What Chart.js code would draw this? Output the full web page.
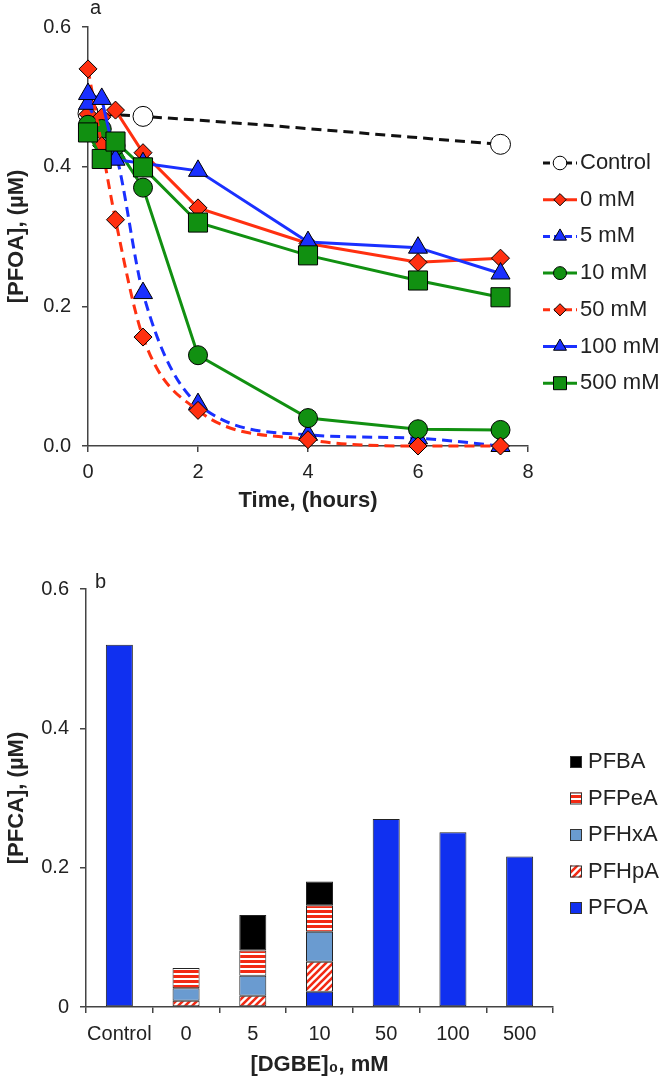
<!DOCTYPE html>
<html>
<head>
<meta charset="utf-8">
<script src="https://cdn.jsdelivr.net/npm/chart.js@4.4.1/dist/chart.umd.min.js"></script>
<style>
body { margin: 0; background: #fff; width: 666px; height: 1081px; position: relative; overflow: hidden; }
canvas { position: absolute; left: 0; }
#topChart { top: 0; }
#barChart { top: 540px; }
</style>
</head>
<body>
<canvas id="topChart" width="666" height="520"></canvas>
<canvas id="barChart" width="666" height="541"></canvas>
<script>
// panel a: PFOA vs time
var hours = [0, 0.25, 0.5, 1, 2, 4, 6, 7.5];
var controlHours = [0, 1, 7.5];
var control = [0.476, 0.472, 0.432];
var mM0 = [0.475, 0.471, 0.481, 0.420, 0.341, 0.290, 0.263, 0.269];
var mM5 = [0.490, 0.450, 0.420, 0.219, 0.060, 0.016, 0.011, 0.000];
var mM10 = [0.460, 0.454, 0.430, 0.370, 0.130, 0.040, 0.024, 0.023];
var mM50 = [0.540, 0.430, 0.324, 0.156, 0.051, 0.009, 0.000, 0.000];
var mM100 = [0.504, 0.497, 0.410, 0.405, 0.394, 0.292, 0.284, 0.247];
var mM500 = [0.449, 0.411, 0.436, 0.399, 0.320, 0.273, 0.237, 0.213];

// panel b: PFCA after treatment
var doses = ['Control', '0', '5', '10', '50', '100', '500'];
var pfoa  = [0.520, null, null, 0.022, 0.270, 0.251, 0.216];
var pfhpa = [null, 0.009, 0.016, 0.043, null, null, null];
var pfhxa = [null, 0.018, 0.029, 0.043, null, null, null];
var pfpea = [null, 0.029, 0.036, 0.038, null, null, null];
var pfba  = [null, null, 0.051, 0.034, null, null, null];

var RED = '#ff3010';
var BLUE = '#1a30ff';
var GREEN = '#119011';

Chart.defaults.font.family = '"Liberation Sans", Arial, sans-serif';
Chart.defaults.color = '#222';

function pairs(xs, ys) {
    var out = [];
    for (var i = 0; i < xs.length; i++) {
        out.push({x: xs[i], y: ys[i]});
    }
    return out;
}

function stripes(horizontal) {
    var c = document.createElement('canvas');
    var s = horizontal ? 5 : 7;
    c.width = s; c.height = s;
    var g = c.getContext('2d');
    g.fillStyle = '#fff';
    g.fillRect(0, 0, s, s);
    if (horizontal) {
        g.fillStyle = '#f22a14';
        g.fillRect(0, 0, s, 3);
    } else {
        g.strokeStyle = '#f22a14';
        g.lineWidth = 2.6;
        g.beginPath();
        g.moveTo(0, s); g.lineTo(s, 0);
        g.moveTo(-2, 2); g.lineTo(2, -2);
        g.moveTo(s - 2, s + 2); g.lineTo(s + 2, s - 2);
        g.stroke();
    }
    return g.createPattern(c, 'repeat');
}

// legend drawn at the side, plus panel letter
var sideLegend = {
    id: 'sideLegend',
    afterDraw: function(chart, args, opts) {
        var ctx = chart.ctx;
        var sets = chart.data.datasets.slice();
        if (opts.reverse) sets.reverse();
        ctx.save();
        ctx.textBaseline = 'middle';
        ctx.font = '20px "Liberation Sans", Arial, sans-serif';
        ctx.fillStyle = '#222';
        ctx.fillText(opts.letter, opts.letterX, opts.letterY);
        ctx.font = opts.fontSize + 'px "Liberation Sans", Arial, sans-serif';
        for (var i = 0; i < sets.length; i++) {
            var ds = sets[i];
            var y = opts.y + i * opts.step;
            if (opts.kind == 'line') {
                ctx.strokeStyle = ds.borderColor;
                ctx.lineWidth = 3;
                ctx.setLineDash(ds.borderDash ? [7, 4] : []);
                ctx.beginPath();
                ctx.moveTo(opts.x, y);
                ctx.lineTo(opts.x + 34, y);
                ctx.stroke();
                ctx.setLineDash([]);
                ctx.fillStyle = ds.pointBackgroundColor;
                ctx.strokeStyle = '#000';
                ctx.lineWidth = 1;
                Chart.helpers.drawPoint(ctx, {pointStyle: ds.pointStyle, radius: ds.pointRadius * 0.68, borderWidth: 1}, opts.x + 17, y);
                ctx.fillStyle = '#222';
                ctx.fillText(ds.label, opts.x + 37, y);
            } else {
                ctx.fillStyle = ds.backgroundColor;
                ctx.fillRect(opts.x, y - 6, 12, 12);
                ctx.strokeStyle = '#333';
                ctx.lineWidth = 1;
                ctx.strokeRect(opts.x + 0.5, y - 5.5, 11, 11);
                ctx.fillStyle = '#222';
                ctx.fillText(ds.label, opts.x + 18, y);
            }
        }
        ctx.restore();
    }
};

function lineSet(label, xs, ys, color, style, radius, dashed, order) {
    return {
        label: label,
        data: pairs(xs, ys),
        borderColor: color,
        borderWidth: 3,
        borderDash: dashed ? [10, 6] : undefined,
        cubicInterpolationMode: dashed ? 'monotone' : 'default',
        tension: 0,
        pointStyle: style,
        pointRadius: radius,
        pointBackgroundColor: style == 'circle' && color == '#111' ? '#fff' : color,
        pointBorderColor: '#000',
        pointBorderWidth: 1,
        clip: false,
        order: order
    };
}

var axisTitle = {size: 22, weight: 'bold'};

new Chart(document.getElementById('topChart'), {
    type: 'line',
    data: {
        datasets: [
            lineSet('Control', controlHours, control, '#111', 'circle', 10, true, 6),
            lineSet('0 mM', hours, mM0, RED, 'rectRot', 9, false, 5),
            lineSet('5 mM', hours, mM5, BLUE, 'triangle', 11, true, 4),
            lineSet('10 mM', hours, mM10, GREEN, 'circle', 9.5, false, 3),
            lineSet('50 mM', hours, mM50, RED, 'rectRot', 9, true, 2),
            lineSet('100 mM', hours, mM100, BLUE, 'triangle', 11, false, 1),
            lineSet('500 mM', hours, mM500, GREEN, 'rect', 13.5, false, 0)
        ]
    },
    options: {
        responsive: false,
        animation: false,
        devicePixelRatio: 1,
        layout: {padding: {top: 27, right: 138, left: 0, bottom: 0}},
        plugins: {
            legend: {display: false},
            tooltip: {enabled: false},
            sideLegend: {kind: 'line', x: 543, y: 163, step: 36.7, fontSize: 22,
                         letter: 'a', letterX: 90, letterY: 8}
        },
        scales: {
            x: {
                type: 'linear', min: 0, max: 8,
                ticks: {stepSize: 2, font: {size: 20}, padding: 8, color: '#222'},
                grid: {drawOnChartArea: false, color: '#444', lineWidth: 1.5, tickLength: 6},
                border: {color: '#444', width: 1.5},
                title: {display: true, text: 'Time, (hours)', font: axisTitle, color: '#222', padding: {top: 4, bottom: 6}},
                afterFit: function(s) { s.height = 74; }
            },
            y: {
                min: 0, max: 0.6,
                ticks: {stepSize: 0.2, font: {size: 20}, padding: 11, color: '#222',
                        callback: function(v) { return v.toFixed(1); }},
                grid: {drawOnChartArea: false, color: '#444', lineWidth: 1.5, tickLength: 6},
                border: {color: '#444', width: 1.5},
                title: {display: true, text: '[PFOA], (µM)', font: axisTitle, color: '#222', padding: {top: 4, bottom: 4}},
                afterFit: function(s) { s.width = 88; }
            }
        }
    },
    plugins: [sideLegend]
});

function barSet(label, values, fill) {
    return {
        label: label,
        data: values,
        backgroundColor: fill,
        borderColor: '#222',
        borderWidth: 1,
        borderSkipped: false,
        barPercentage: 0.405,
        categoryPercentage: 1
    };
}

new Chart(document.getElementById('barChart'), {
    type: 'bar',
    data: {
        labels: doses,
        datasets: [
            barSet('PFOA', pfoa, '#1030f0'),
            barSet('PFHpA', pfhpa, stripes(false)),
            barSet('PFHxA', pfhxa, '#6a9bd0'),
            barSet('PFPeA', pfpea, stripes(true)),
            barSet('PFBA', pfba, '#000')
        ]
    },
    options: {
        responsive: false,
        animation: false,
        devicePixelRatio: 1,
        layout: {padding: {top: 49, right: 113, left: 0, bottom: 0}},
        plugins: {
            legend: {display: false},
            tooltip: {enabled: false},
            sideLegend: {kind: 'box', reverse: true, x: 570, y: 222, step: 36.5, fontSize: 22,
                         letter: 'b', letterX: 95, letterY: 42}
        },
        scales: {
            x: {
                stacked: true,
                ticks: {font: {size: 20}, padding: 9, color: '#222', maxRotation: 0, minRotation: 0, autoSkip: false},
                grid: {drawOnChartArea: false, offset: true, color: '#444', lineWidth: 1.5, tickLength: 6},
                border: {color: '#444', width: 1.5},
                title: {display: true, text: '[DGBE]₀, mM', font: axisTitle, color: '#222', padding: {top: 4, bottom: 3}},
                afterFit: function(s) { s.height = 74; }
            },
            y: {
                stacked: true, min: 0, max: 0.6,
                ticks: {stepSize: 0.2, font: {size: 20}, padding: 11, color: '#222',
                        callback: function(v) { return v === 0 ? '0' : v.toFixed(1); }},
                grid: {drawOnChartArea: false, color: '#444', lineWidth: 1.5, tickLength: 6},
                border: {color: '#444', width: 1.5},
                title: {display: true, text: '[PFCA], (µM)', font: axisTitle, color: '#222', padding: {top: 4, bottom: 4}},
                afterFit: function(s) { s.width = 86; }
            }
        }
    },
    plugins: [sideLegend]
});
</script>
</body>
</html>
